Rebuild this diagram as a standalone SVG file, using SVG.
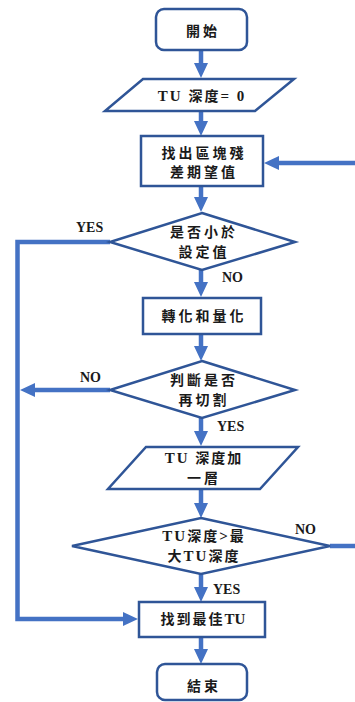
<svg xmlns="http://www.w3.org/2000/svg" width="355" height="702" viewBox="0 0 355 702">
<defs>
<marker id="ah" markerUnits="userSpaceOnUse" markerWidth="16" markerHeight="16" refX="1" refY="7" orient="auto" viewBox="0 0 16 14">
<polygon points="0,0 15,7 0,14" fill="#4472C4"/>
</marker>
<style>
.node{fill:#fff;stroke:#2F5597;stroke-width:2.5}
.conn{fill:none;stroke:#4472C4;stroke-width:4.5}
.t{font-family:"Liberation Serif","Noto Sans CJK TC",serif;font-weight:bold;font-size:14px;fill:#1a1a1a;text-anchor:middle;letter-spacing:3px}
.lat{font-size:15px}
.lbl{font-family:"Liberation Serif",serif;font-weight:bold;font-size:14px;fill:#1a1a1a}
</style>
</defs>
<rect width="355" height="702" fill="#fff"/>
<g id="connectors">
<path class="conn" d="M201,50 V64" marker-end="url(#ah)"/>
<path class="conn" d="M201,111 V122" marker-end="url(#ah)"/>
<path class="conn" d="M201,186 V198" marker-end="url(#ah)"/>
<path class="conn" d="M201,270 V283" marker-end="url(#ah)"/>
<path class="conn" d="M201,334 V347" marker-end="url(#ah)"/>
<path class="conn" d="M201,418 V432" marker-end="url(#ah)"/>
<path class="conn" d="M201,489 V504" marker-end="url(#ah)"/>
<path class="conn" d="M201,574 V588" marker-end="url(#ah)"/>
<path class="conn" d="M201,637 V650" marker-end="url(#ah)"/>
<path class="conn" d="M110,242 H17.5 V619 H124" marker-end="url(#ah)"/>
<path class="conn" d="M110,390 H34" marker-end="url(#ah)"/>
<path class="conn" d="M330,546 H355"/>
<path class="conn" d="M355,163 H278" marker-end="url(#ah)"/>
</g>
<g id="start">
<rect class="node" x="156" y="9" width="91" height="41" rx="8"/>
<text class="t" x="203" y="36">開始</text>
</g>
<g id="init">
<polygon class="node" points="143,79 294,79 255,111 105,111"/>
<text class="t" x="202" y="101" style="letter-spacing:2px"><tspan class="lat">TU </tspan>深度<tspan class="lat">= 0</tspan></text>
</g>
<g id="calc">
<rect class="node" x="141" y="136" width="122" height="50"/>
<text class="t" x="204" y="158">找出區塊殘</text>
<text class="t" x="204" y="177">差期望值</text>
</g>
<g id="cond1">
<polygon class="node" points="202,213 295,242 202,270 110,242"/>
<text class="t" x="204" y="237">是否小於</text>
<text class="t" x="204" y="257">設定值</text>
</g>
<g id="transform">
<rect class="node" x="143" y="298" width="118" height="36"/>
<text class="t" x="204" y="321">轉化和量化</text>
</g>
<g id="cond2">
<polygon class="node" points="202,361 295,390 202,418 110,390"/>
<text class="t" x="204" y="385">判斷是否</text>
<text class="t" x="204" y="405">再切割</text>
</g>
<g id="inc">
<polygon class="node" points="146,447 298,447 260,489 108,489"/>
<text class="t" x="204" y="463" style="letter-spacing:2px"><tspan class="lat">TU </tspan>深度加</text>
<text class="t" x="204" y="483">一層</text>
</g>
<g id="cond3">
<polygon class="node" points="201,518 330,546 201,574 72,546"/>
<text class="t" x="204" y="541" style="letter-spacing:2px"><tspan class="lat">TU</tspan>深度<tspan class="lat">&gt;</tspan>最</text>
<text class="t" x="204" y="561" style="letter-spacing:2px">大<tspan class="lat">TU</tspan>深度</text>
</g>
<g id="best">
<rect class="node" x="139" y="602" width="126" height="35"/>
<text class="t" x="203" y="624" style="letter-spacing:2px">找到最佳<tspan class="lat" style="letter-spacing:0">TU</tspan></text>
</g>
<g id="end">
<rect class="node" x="157" y="664" width="90" height="36" rx="8"/>
<text class="t" x="204" y="691">結束</text>
</g>
<g id="labels">
<text class="lbl" x="76" y="232">YES</text>
<text class="lbl" x="222" y="282">NO</text>
<text class="lbl" x="80" y="382">NO</text>
<text class="lbl" x="217" y="431">YES</text>
<text class="lbl" x="295" y="534">NO</text>
<text class="lbl" x="213" y="594">YES</text>
</g>
</svg>
